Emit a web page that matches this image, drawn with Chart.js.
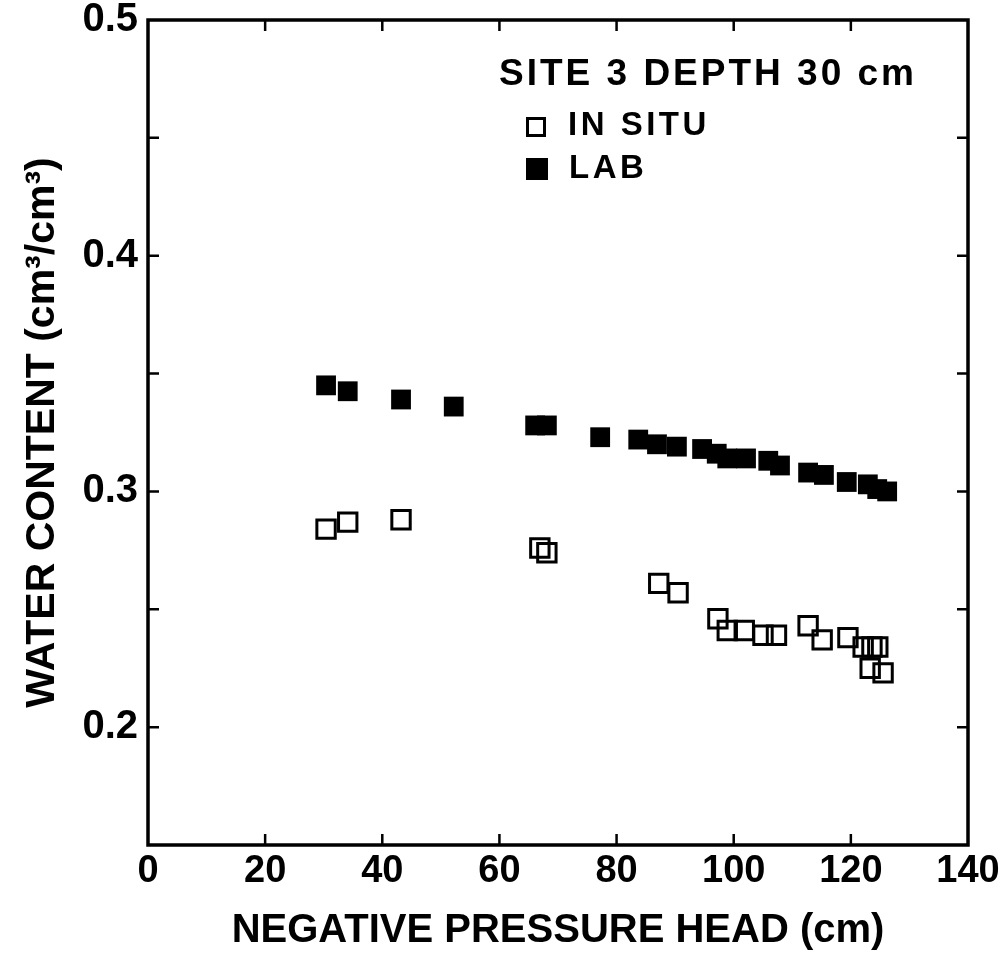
<!DOCTYPE html>
<html>
<head>
<meta charset="utf-8">
<script src="https://cdn.jsdelivr.net/npm/chart.js@4"></script>
<style>
  body { margin: 0; background: #fff; }
  #wrap { width: 1004px; height: 955px; }
</style>
</head>
<body>
<div id="wrap"><canvas id="chart" width="1004" height="955"></canvas></div>
<script>
// pressure head (cm) en water content
const inSituHead = [30.4, 34.1, 43.2, 66.9, 68.1, 87.2, 90.5, 97.3, 98.9, 101.8, 105.0, 107.3, 112.7, 115.1, 119.5, 122.1, 123.6, 124.6, 123.3, 125.5];
const inSituTheta = [0.284, 0.287, 0.288, 0.276, 0.274, 0.261, 0.257, 0.246, 0.241, 0.241, 0.239, 0.239, 0.243, 0.237, 0.238, 0.234, 0.234, 0.234, 0.225, 0.223];

const labHead = [30.4, 34.1, 43.2, 52.2, 66.1, 68.1, 77.2, 83.7, 86.9, 90.3, 94.6, 97.1, 98.9, 102.1, 105.9, 107.9, 112.7, 115.4, 119.3, 122.9, 124.5, 126.2];
const labTheta = [0.345, 0.3425, 0.339, 0.336, 0.328, 0.328, 0.323, 0.322, 0.320, 0.319, 0.318, 0.316, 0.314, 0.314, 0.313, 0.311, 0.308, 0.307, 0.304, 0.303, 0.301, 0.300];

const xTicks = [0, 20, 40, 60, 80, 100, 120, 140];
const yTickLabels = ["0.2", "0.3", "0.4", "0.5"];

const legendTitle = "SITE 3 DEPTH 30 cm";
const legendNames = ["IN SITU", "LAB"];

const FONT = "'Liberation Sans', Arial, sans-serif";

function toPoints(xs, ys) {
    return xs.map((x, i) => ({ x: x, y: ys[i] }));
}

// kader, ticks naar binnen en de legenda
const framePlugin = {
    id: 'frame',
    afterDraw(chart) {
        const ctx = chart.ctx;
        const a = chart.chartArea;
        const xs = chart.scales.x, ys = chart.scales.y;
        ctx.save();
        ctx.strokeStyle = '#000';
        ctx.lineWidth = 3.5;
        ctx.strokeRect(a.left, a.top, a.right - a.left, a.bottom - a.top);

        ctx.lineWidth = 2.5;
        const len = 11;
        xs.ticks.forEach(t => {
            if (t.value <= xs.min || t.value >= xs.max) return;
            const px = xs.getPixelForValue(t.value);
            ctx.beginPath();
            ctx.moveTo(px, a.bottom); ctx.lineTo(px, a.bottom - len);
            ctx.moveTo(px, a.top); ctx.lineTo(px, a.top + len);
            ctx.stroke();
        });
        ys.ticks.forEach(t => {
            if (t.value <= ys.min + 1e-9 || t.value >= ys.max - 1e-9) return;
            const py = ys.getPixelForValue(t.value);
            ctx.beginPath();
            ctx.moveTo(a.left, py); ctx.lineTo(a.left + len, py);
            ctx.moveTo(a.right, py); ctx.lineTo(a.right - len, py);
            ctx.stroke();
        });

        // legenda
        ctx.fillStyle = '#000';
        ctx.textBaseline = 'middle';
        ctx.letterSpacing = '3px';
        ctx.font = 'bold 37px ' + FONT;
        ctx.fillText(legendTitle, a.left + 351, a.top + 55);
        ctx.letterSpacing = '3.5px';
        ctx.font = 'bold 33px ' + FONT;
        ctx.fillText(legendNames[0], a.left + 420, a.top + 106);
        ctx.fillText(legendNames[1], a.left + 421, a.top + 149);
        ctx.lineWidth = 3;
        ctx.strokeRect(a.left + 379.5, a.top + 98.5, 17, 17);
        ctx.fillRect(a.left + 378, a.top + 138, 22, 22);
        ctx.restore();
    }
};

const ctx = document.getElementById('chart').getContext('2d');
new Chart(ctx, {
    type: 'scatter',
    data: {
        datasets: [
            {
                label: legendNames[0],
                data: toPoints(inSituHead, inSituTheta),
                pointStyle: 'rect',
                pointRadius: 13,
                pointBorderWidth: 3,
                borderColor: '#000',
                backgroundColor: 'rgba(0,0,0,0)'
            },
            {
                label: legendNames[1],
                data: toPoints(labHead, labTheta),
                pointStyle: 'rect',
                pointRadius: 14,
                pointBorderWidth: 0,
                borderColor: '#000',
                backgroundColor: '#000'
            }
        ]
    },
    options: {
        responsive: false,
        animation: false,
        layout: { padding: { top: 20, right: 36, left: 0, bottom: 0 } },
        plugins: {
            legend: { display: false },
            tooltip: { enabled: false }
        },
        scales: {
            x: {
                type: 'linear',
                min: 0, max: 140,
                afterBuildTicks: s => { s.ticks = xTicks.map(v => ({ value: v })); },
                afterFit: s => { s.height = 110; s.paddingLeft = 0; s.paddingRight = 0; },
                grid: { display: false, drawTicks: false },
                border: { display: false },
                ticks: {
                    color: '#000',
                    padding: 4,
                    font: { family: FONT, size: 38, weight: 'bold' },
                    callback: v => String(v)
                },
                title: {
                    display: true,
                    text: 'NEGATIVE PRESSURE HEAD (cm)',
                    color: '#000',
                    padding: { top: 0, bottom: 0 },
                    font: { family: FONT, size: 40, weight: 'bold' }
                }
            },
            y: {
                type: 'linear',
                min: 0.15, max: 0.5,
                ticks: {
                    stepSize: 0.05,
                    color: '#000',
                    padding: 10,
                    font: { family: FONT, size: 40, weight: 'bold' },
                    callback: v => {
                        const s = v.toFixed(1);
                        return (Math.abs(v * 10 - Math.round(v * 10)) < 1e-6 && yTickLabels.includes(s)) ? s : '';
                    }
                },
                afterFit: s => { s.width = 148; s.paddingTop = 0; s.paddingBottom = 0; },
                grid: { display: false, drawTicks: false },
                border: { display: false },
                title: {
                    display: true,
                    text: 'WATER CONTENT (cm³/cm³)',
                    color: '#000',
                    padding: { top: 18, bottom: 0 },
                    font: { family: FONT, size: 41, weight: 'bold' }
                }
            }
        }
    },
    plugins: [framePlugin]
});
</script>
</body>
</html>
